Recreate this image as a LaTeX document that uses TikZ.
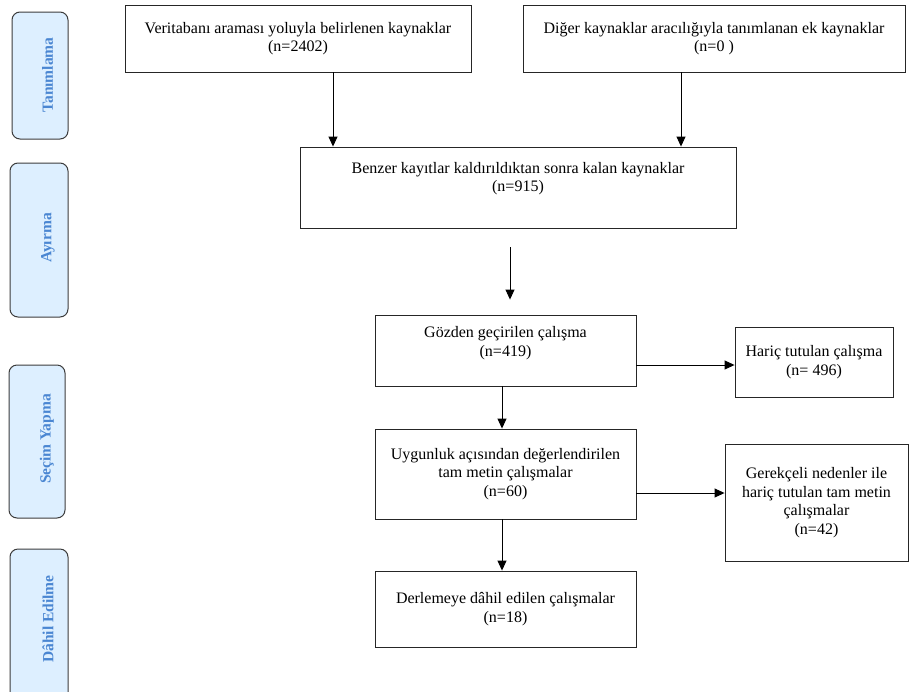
\documentclass[tikz,border=0pt]{standalone}
\usepackage{fontspec}
\setmainfont{Liberation Serif}
\usepackage{tikz}
\usetikzlibrary{arrows.meta, positioning, calc}
\definecolor{fazdolgu}{HTML}{DDEFFF}
\definecolor{fazyazi}{HTML}{4A86D2}
\definecolor{fazcizgi}{HTML}{3C3C3C}

\begin{document}
\begin{tikzpicture}[x=1pt,y=-1pt,
        kutu/.style={draw=black!85, line width=0.9pt, rectangle, align=center, inner sep=2pt,
                font=\fontsize{16}{18.5}\selectfont},
        faz/.style={draw=fazcizgi, line width=1pt, fill=fazdolgu, rounded corners=8pt},
        fazyazi/.style={text=fazyazi, rotate=90, font=\fontsize{15.5}{18}\selectfont\bfseries},
        ok/.style={-{Triangle[length=10pt,width=9pt]}, line width=0.9pt, black}]

        % Sınırlar
        \useasboundingbox (0,0) rectangle (910,691);
        \clip (0,0) rectangle (910,691);

        % Sol taraftaki aşama kutuları
        \draw[faz] (12,12) rectangle (68,139); % Tanımlama
        \node[fazyazi] (tanimlama) at (47.5,75) {Tanımlama};
        \draw[faz] (10,163) rectangle (68,317); % Ayırma
        \node[fazyazi] (ayirma) at (48,238) {Ayırma};
        \draw[faz] (9,365) rectangle (65,518); % Seçim Yapma
        \node[fazyazi] (secim) at (47,439) {Seçim Yapma};
        \draw[faz] (10,549) rectangle (68,712); % Dâhil Edilme
        \node[fazyazi] (dahil) at (48,619) {Dâhil Edilme};

        % Akış kutuları
        \node[kutu, minimum width=346pt, minimum height=67pt] (veritabani) at (298,38.5)
                {Veritabanı araması yoluyla belirlenen kaynaklar\\(n=2402)};
        \node[kutu, minimum width=382pt, minimum height=67pt] (diger) at (714,38.5)
                {Diğer kaynaklar aracılığıyla tanımlanan ek kaynaklar\\(n=0 )};
        \node[kutu, minimum width=436pt, minimum height=81pt] (benzer) at (518,187.5)
                {Benzer kayıtlar kaldırıldıktan sonra kalan kaynaklar\\(n=915)\\[3pt]};
        \node[kutu, minimum width=261pt, minimum height=71pt] (gozden) at (505.5,350.5)
                {Gözden geçirilen çalışma\\(n=419)\\[0pt]};
        \node[kutu, minimum width=158pt, minimum height=70pt] (haric) at (814,362)
                {Hariç tutulan çalışma\\(n= 496)};
        \node[kutu, minimum width=261pt, minimum height=90pt] (uygunluk) at (505.5,474)
                {Uygunluk açısından değerlendirilen\\tam metin çalışmalar\\(n=60)};
        \node[kutu, minimum width=183pt, minimum height=117pt] (gerekceli) at (816.5,502.5)
                {Gerekçeli nedenler ile\\hariç tutulan tam metin\\çalışmalar\\(n=42)};
        \node[kutu, minimum width=261pt, minimum height=76pt] (derlemeye) at (505.5,609)
                {Derlemeye dâhil edilen çalışmalar\\(n=18)};

        % Oklar
        \draw[ok] ([xshift=35pt]veritabani.south) -- ([xshift=35pt]veritabani.south |- benzer.north);
        \draw[ok] ([xshift=-33pt]diger.south) -- ([xshift=-33pt]diger.south |- benzer.north);
        \draw[ok, shorten <=19pt, shorten >=15pt] ([xshift=4.5pt]gozden.north |- benzer.south) -- ([xshift=4.5pt]gozden.north);
        \draw[ok] ([yshift=-14.5pt]gozden.east) -- ([yshift=-14.5pt]gozden.east -| haric.west);
        \draw[ok] ([xshift=-3.5pt]gozden.south) -- ([xshift=-3.5pt]gozden.south |- uygunluk.north);
        \draw[ok] ([yshift=-19pt]uygunluk.east) -- ([yshift=-19pt]uygunluk.east -| gerekceli.west);
        \draw[ok] ([xshift=-3.5pt]uygunluk.south) -- ([xshift=-3.5pt]uygunluk.south |- derlemeye.north);

\end{tikzpicture}
\end{document}
